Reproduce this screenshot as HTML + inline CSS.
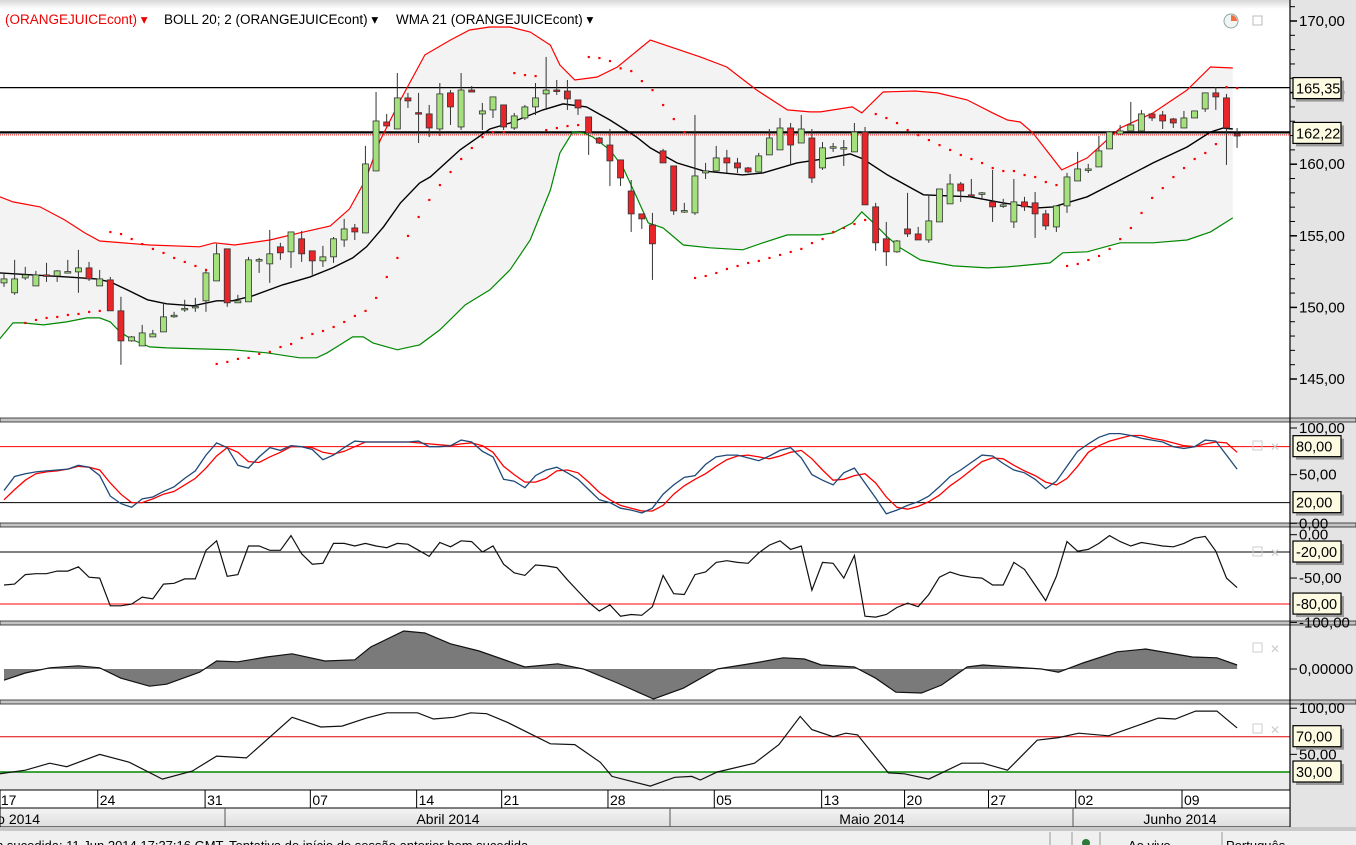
<!DOCTYPE html>
<html><head><meta charset="utf-8">
<style>
html,body{margin:0;padding:0;background:#fff;}
svg{display:block;font-family:"Liberation Sans",sans-serif;}
</style></head>
<body>
<svg id="chart" width="1356" height="845" viewBox="0 0 1356 845" xmlns="http://www.w3.org/2000/svg">
<defs>
<clipPath id="cMain"><rect x="0" y="8" width="1290" height="410"/></clipPath>
<clipPath id="cSto"><rect x="0" y="423" width="1290" height="100"/></clipPath>
<clipPath id="cWr"><rect x="0" y="528" width="1290" height="94"/></clipPath>
<clipPath id="cMacd"><rect x="0" y="626" width="1290" height="75"/></clipPath>
<clipPath id="cRsi"><rect x="0" y="705" width="1290" height="85"/></clipPath>
<linearGradient id="gTop" x1="0" y1="0" x2="0" y2="1"><stop offset="0" stop-color="#d8d8d8"/><stop offset="1" stop-color="#fff"/></linearGradient>
<linearGradient id="gMonth" x1="0" y1="0" x2="0" y2="1"><stop offset="0" stop-color="#f4f4f4"/><stop offset="1" stop-color="#dedede"/></linearGradient>
</defs>
<rect x="0" y="0" width="1356" height="845" fill="#fff"/>
<rect x="1290" y="0" width="66" height="827" fill="#e4e4e4"/>
<rect x="0" y="0" width="1290" height="9" fill="url(#gTop)"/>
<g id="layer"></g>
</svg>
<script>
// ---------- DATA ----------
const candleOpen=[151.71,151.02,152.06,151.50,152.27,152.20,152.48,152.48,152.76,151.50,151.92,149.76,147.66,147.31,147.94,148.29,149.41,149.90,150.04,150.46,151.85,154.09,150.32,150.39,153.32,153.04,154.23,153.88,154.79,153.95,153.25,153.53,154.71,155.55,155.20,159.53,162.95,162.46,164.63,163.60,163.51,162.46,164.98,162.60,165.18,163.51,163.79,164.14,162.53,163.23,164.0,164.91,165.18,165.11,164.49,163.30,161.83,161.34,160.30,158.13,156.53,155.76,160.93,159.88,156.74,156.60,159.39,159.53,160.44,160.09,159.74,159.46,160.65,161.0,162.53,161.48,161.83,159.74,161.20,161.14,160.86,162.25,157.02,154.79,153.88,155.48,155.13,154.71,155.97,157.23,158.62,157.86,157.98,157.37,157.16,155.97,157.37,157.30,156.53,155.62,157.09,158.83,159.65,159.81,161.07,162.11,162.32,162.32,163.51,163.44,163.16,162.53,163.23,163.86,164.98,164.63,162.11];
const candleHigh=[152.41,153.32,152.83,152.55,153.11,152.60,153.32,154.02,153.18,152.62,152.13,150.74,148.0,148.78,148.43,150.32,149.69,150.53,150.67,152.69,154.44,154.09,150.88,153.53,153.46,155.41,154.51,155.27,155.34,153.95,154.30,154.92,156.18,155.83,161.28,165.04,163.51,166.37,164.98,164.98,164.14,165.67,165.18,166.37,165.46,164.28,164.70,164.14,163.58,164.14,165.67,167.49,165.88,165.88,164.49,163.30,161.90,162.46,160.30,158.90,156.53,156.60,161.07,159.88,157.30,163.44,160.09,161.28,161.0,160.44,159.81,160.79,162.46,163.23,162.88,163.44,162.46,161.55,161.48,161.69,162.88,162.60,157.30,155.97,154.71,158.0,155.62,157.86,158.27,159.32,158.76,158.97,158.06,159.60,157.58,158.97,157.72,158.06,156.81,157.09,159.39,160.86,160.02,161.97,162.32,162.74,164.35,163.79,163.51,163.72,163.23,163.72,163.72,164.98,165.39,164.91,162.53];
const candleLow=[151.43,150.88,151.92,151.50,151.78,151.78,152.41,151.02,151.85,151.50,149.76,145.99,147.6,147.31,147.94,148.29,149.27,149.69,149.69,149.69,151.85,150.04,150.32,150.39,152.41,151.71,153.32,152.76,153.18,152.27,152.83,153.11,154.23,154.71,155.20,159.53,162.67,162.46,163.93,161.48,161.90,161.97,162.74,162.39,165.04,162.39,163.23,162.39,162.39,163.09,163.44,163.79,164.84,163.79,163.44,160.65,161.41,158.48,158.48,155.27,155.48,151.92,160.09,156.46,156.60,156.46,158.97,159.53,159.39,159.39,159.39,159.46,160.65,161.0,159.95,161.48,158.69,159.60,160.86,159.88,160.86,157.16,153.95,152.90,153.81,154.92,154.71,154.51,155.97,157.23,157.37,157.72,157.51,155.97,156.95,155.55,156.74,154.85,155.41,155.27,156.60,158.83,159.39,159.81,161.07,162.04,162.32,162.32,163.02,162.46,162.53,162.53,163.23,163.65,163.79,159.95,161.14];
const candleClose=[151.99,151.99,152.27,152.27,152.20,152.55,152.50,152.76,151.99,151.99,149.76,147.66,147.94,148.22,148.15,149.34,149.45,149.93,150.07,152.41,153.74,150.32,150.46,153.32,153.34,153.74,153.81,155.27,153.74,153.25,153.53,154.79,155.48,155.27,160.02,163.02,162.67,164.63,164.42,163.58,162.53,164.91,164.0,165.18,165.04,163.72,164.70,162.60,163.37,164.0,164.63,165.18,165.16,164.56,163.93,162.18,161.48,160.23,159.04,156.53,156.18,154.44,160.09,156.74,156.76,159.18,159.53,160.44,160.09,159.74,159.46,160.58,161.83,162.53,161.34,162.46,159.04,161.14,161.22,161.16,162.25,157.16,154.51,153.88,154.64,155.13,154.71,156.04,158.27,158.62,158.13,157.83,158.0,157.02,157.16,157.37,157.02,156.53,155.69,157.09,159.11,159.67,159.67,160.93,162.25,162.32,162.74,163.51,163.23,163.02,162.88,163.23,163.72,164.98,164.70,162.53,161.97];
const sarValues=[null,null,148.92,149.13,149.27,149.34,149.48,149.55,149.69,149.76,155.27,155.13,154.78,154.43,154.09,153.81,153.46,153.18,152.90,152.62,146.06,146.20,146.41,146.48,146.76,146.90,147.24,147.45,147.87,148.15,148.36,148.64,148.99,149.41,149.76,150.67,152.13,153.46,155.0,156.32,157.51,158.55,159.46,160.37,161.14,161.90,162.25,162.25,166.37,166.23,166.16,162.39,162.53,162.67,162.74,167.49,167.42,167.21,166.7,166.51,165.81,165.18,164.14,163.16,162.25,152.06,152.20,152.41,152.69,152.90,153.11,153.25,153.46,153.67,153.88,154.09,154.50,154.78,155.27,155.55,155.83,156.11,163.51,163.23,162.88,162.39,162.04,161.69,161.34,161.0,160.65,160.37,160.09,159.74,159.53,159.53,159.25,159.11,158.76,158.55,152.90,153.04,153.32,153.60,154.09,154.78,155.55,156.60,157.65,158.34,159.11,159.74,160.37,160.79,161.41,165.39,165.32];
const bbUpperIdx=[-0.4,0.85,3.4,5.7,7.6,9.0,13.7,18.4,19.8,21.7,25.0,27.8,30.7,32.5,34.0,35.4,37.3,39.6,42,43.8,45.7,47.6,49.5,51.4,52.3,53.7,55.8,57.7,60.8,65.5,68.0,70.8,73.7,75.8,76.8,79.8,80.7,82.7,85.7,87.8,90.6,93.0,94.4,95.6,96.8,99.5,101.9,105.0,108.1,111.3,113.5,115.6];
const bbUpperVals=[157.72,157.37,157.02,156.11,155.20,154.64,154.36,154.23,154.51,154.36,154.71,155.20,155.69,156.88,158.90,161.69,164.49,167.63,168.67,169.37,169.58,169.58,169.23,168.32,166.93,165.88,166.09,166.79,168.67,167.49,166.79,165.18,163.79,163.65,163.65,164.0,163.58,165.04,165.11,164.98,164.49,163.58,163.09,162.95,162.18,159.60,160.44,162.53,163.58,165.18,166.79,166.72];
const bbLowerIdx=[-0.4,0.85,1.8,3.7,5.9,7.8,9.0,10.0,10.9,12.1,13.7,15.3,18.4,21.5,24.7,27.8,29.4,30.4,31.3,32.8,33.8,34.7,37.0,38.2,39.1,41.0,43.4,45.7,47.6,49.5,51.4,52.3,53.5,54.5,55.4,57.0,58.2,59.5,60.6,62.0,63.9,66.4,69.5,71.4,73.7,76.8,78.0,79.8,80.7,81.8,83.1,84.3,86.2,89.3,92.5,94.4,98.4,99.6,101.9,105.0,108.1,111.3,113.5,115.6];
const bbLowerVals=[147.80,148.92,148.92,148.78,148.99,149.27,149.27,148.99,148.29,147.73,147.24,147.17,147.10,147.04,146.83,146.48,146.48,146.83,147.24,147.94,147.94,147.52,147.04,147.24,147.38,148.43,150.18,151.22,152.62,154.71,158.20,160.79,162.25,162.18,161.90,161.0,159.81,157.72,155.90,155.55,154.36,154.16,154.02,154.51,155.06,155.06,155.20,155.90,156.67,155.90,154.92,154.16,153.32,152.90,152.76,152.83,153.11,153.81,153.88,154.51,154.51,154.71,155.27,156.25];
const wmaIdx=[-0.4,2.7,5.9,8.7,10.0,11.6,13.5,15.3,17.8,20.0,21.5,23.4,26.2,28.8,30.9,32.8,34.1,35.7,37.3,39.1,40.1,42.9,45.7,47.6,50.7,52.6,54.8,57.0,59.5,60.8,63.3,65.8,69.5,71.4,74.6,77.7,79.6,80.8,83.1,86.5,90.9,94.0,97.2,98.7,101.9,105.0,108.1,111.3,113.5,114.7,115.6];
const wmaVals=[152.41,152.27,152.13,151.99,151.78,151.22,150.53,150.25,150.11,150.46,150.46,150.81,151.57,152.13,152.76,153.46,154.23,155.62,157.30,158.69,159.11,161.0,162.46,162.88,163.79,164.21,164.0,163.09,161.90,161.14,160.09,159.53,159.25,159.39,160.09,160.44,160.72,160.37,159.25,157.86,157.72,157.30,156.95,157.02,157.72,158.90,160.09,161.20,162.25,162.53,162.46];
const stochK=[33,48,51,53,54,55,56,60,58,49,27,19,15,24,26,32,37,46,54,71,84,79,60,57,69,79,76,81,80,77,66,71,79,86,85,85,85,85,85,86,80,80,81,87,85,75,69,45,43,36,49,55,58,52,45,34,23,20,14,12,9,14,29,39,47,49,61,69,71,71,68,65,70,76,79,68,50,44,39,52,57,41,25,8,12,17,21,27,37,48,55,63,71,70,62,55,52,45,35,43,59,75,83,90,94,94,92,89,87,85,80,78,80,87,86,71,56];
const stochD=[23,34,44,51,53,54,56,59,58,55,41,29,20,20,24,29,32,39,46,57,70,79,74,64,63,69,74,80,80,79,74,72,75,80,85,85,85,85,85,84,83,82,81,83,84,81,74,59,50,42,42,46,54,55,52,42,31,23,17,14,11,11,17,29,38,45,51,59,66,70,71,69,67,70,74,76,67,55,44,45,49,51,41,26,15,13,16,21,28,38,46,55,64,68,67,60,54,49,42,39,46,59,74,81,86,89,92,92,89,87,84,81,80,83,85,84,74];
const williamsR=[-58,-57,-46,-45,-45,-42,-42,-37,-49,-50,-82,-82,-80,-72,-74,-57,-56,-51,-51,-18,-7,-48,-46,-13,-13,-18,-18,-1,-22,-34,-33,-10,-10,-13,-10,-13,-15,-10,-11,-18,-25,-9,-14,-7,-8,-20,-13,-34,-44,-47,-35,-36,-38,-52,-65,-78,-88,-81,-94,-92,-93,-83,-47,-68,-69,-46,-43,-32,-30,-32,-33,-21,-12,-7,-17,-13,-64,-32,-33,-50,-24,-94,-95,-92,-84,-79,-83,-69,-49,-43,-47,-49,-50,-58,-58,-32,-40,-58,-76,-48,-8,-19,-17,-10,-1,-8,-13,-9,-11,-13,-14,-10,-4,-2,-19,-50,-61];
const macdIdx=[0,2,4.3,7,9,11,13.7,15.3,18.4,20,22,24.7,27.1,30.2,33,34.5,37.6,39.6,42,44.7,49,52.1,54.5,57.7,61.1,63.9,67.1,70.6,73.3,75.3,76.9,80,82,83.9,86.3,88.2,90.6,92.1,97.6,99.2,101.5,104.7,107.4,111.8,114.1,116];
const macdVals=[-0.28,-0.10,0.03,0.08,0.03,-0.23,-0.43,-0.38,-0.08,0.20,0.18,0.30,0.38,0.20,0.23,0.55,0.95,0.90,0.63,0.45,0.05,0.13,0,-0.35,-0.75,-0.48,0,0.15,0.28,0.25,0.10,0.05,-0.23,-0.58,-0.60,-0.40,0.05,0.10,0,-0.08,0.15,0.43,0.50,0.30,0.28,0.10];
const rsiIdx=[-0.4,2.0,4.3,5.9,9.0,11.8,14.9,17.7,20.0,22.8,27.1,29.8,31.8,34.1,36.0,38.9,40.4,42.3,43.9,45.4,47.4,51.4,53.7,56.1,57.2,60.8,63.1,64.7,65.5,67.1,70.6,72.9,74.9,76.0,78.0,79.2,80.3,83.2,84.7,87.0,90.1,92.1,94.4,97.2,99.2,101.1,103.9,108.6,110.2,112.1,114.1,116];
const rsiVals=[28,32,40,36,50,41,22,31,48,46,92,81,82,91,97,97,90,92,97,96,86,62,61,41,25,14,24,25,21,30,40,61,93,78,70,74,72,29,28,22,40,40,32,66,69,74,71,91,90,99,99,80];
const priceTicks=[170,165,160,155,150,145];
const dateLabels=["17","24","31","07","14","21","28","05","13","20","27","02","09"];
const dateIdx=[-0.2,9.1,19.2,29.1,39.1,47.1,57.1,67.1,77.2,85.0,92.9,101.1,111.1];
const monthLabels=["Março 2014","Abril 2014","Maio 2014","Junho 2014"];

// ---------- SCALES ----------
const NS="http://www.w3.org/2000/svg";
const layer=document.getElementById('layer');
const xOf=i=>4+i*10.63;
const yP=p=>21+(170-p)*14.32;
const yS=v=>521.3-v*0.933;
const yW=v=>534.7-v*0.867;
const yM=v=>669-v*40;
const yR=v=>798.5-v*0.883;
function mk(tag,attrs,parent){const e=document.createElementNS(NS,tag);for(const k in attrs)e.setAttribute(k,attrs[k]);(parent||layer).appendChild(e);return e;}
function grp(clip){const g=mk('g',clip?{'clip-path':'url(#'+clip+')'}:{});return g;}
function pts(idx,vals,sy){return idx.map((t,k)=>xOf(t).toFixed(1)+','+sy(vals[k]).toFixed(1)).join(' ');}
const allIdx=candleClose.map((_,i)=>i);

// ---------- MAIN PANEL ----------
const gm=grp('cMain');
let bandPts=pts(bbUpperIdx,bbUpperVals,yP)+' '+bbLowerIdx.slice().reverse().map((t,k)=>{const v=bbLowerVals[bbLowerVals.length-1-k];return xOf(t).toFixed(1)+','+yP(v).toFixed(1);}).join(' ');
let e=mk('polygon',{points:bandPts,fill:'#f3f3f3',stroke:'none'},gm);


e=mk('line',{x1:0,x2:1290,y1:yP(165.35),y2:yP(165.35),stroke:'#000','stroke-width':1.2},gm);


e=mk('line',{x1:0,x2:1290,y1:yP(162.22),y2:yP(162.22),stroke:'#000','stroke-width':2.2},gm);


e=mk('line',{x1:0,x2:1290,y1:yP(162.22)+2.5,y2:yP(162.22)+2.5,stroke:'#f00','stroke-width':1,'stroke-dasharray':'1,1'},gm);


e=mk('polyline',{points:pts(bbUpperIdx,bbUpperVals,yP),fill:'none',stroke:'#f00','stroke-width':1.2},gm);


e=mk('polyline',{points:pts(bbLowerIdx,bbLowerVals,yP),fill:'none',stroke:'#080','stroke-width':1.2},gm);


e=mk('polyline',{points:pts(wmaIdx,wmaVals,yP),fill:'none',stroke:'#000','stroke-width':1.4},gm);


for(let i=0;i<candleClose.length;i++){
  const o=candleOpen[i],c=candleClose[i],h=candleHigh[i],l=candleLow[i];
  const x=xOf(i);
  const up=c>=o;
  const w=mk('line',{x1:x,x2:x,y1:yP(h),y2:yP(l),stroke:'#333','stroke-width':1},gm);
  
  
  const top=yP(Math.max(o,c)),bot=yP(Math.min(o,c));
  const b=mk('rect',{x:x-3,y:top,width:6,height:Math.max(1.5,bot-top),fill:up?'#a4e07c':'#e8262a',stroke:'#333','stroke-width':0.8},gm);
  
  
}
for(let i=0;i<sarValues.length;i++){
  if(sarValues[i]===null)continue;
  const d=mk('rect',{x:xOf(i)-1,y:yP(sarValues[i])-1,width:2.2,height:2.2,fill:'#f00'},gm);
  
  
}
const legend=[["(ORANGEJUICEcont) ▾",5,'#e00'],["BOLL 20; 2 (ORANGEJUICEcont) ▾",164,'#000'],["WMA 21 (ORANGEJUICEcont) ▾",396,'#000']];
legend.forEach((L,k)=>{const t=mk('text',{x:L[1],y:24,'font-size':13.5,fill:L[2]});t.textContent=L[0];

});
e=mk('circle',{cx:1231,cy:21,r:7,fill:'#f3f3f3',stroke:'#8aa',"stroke-width":1});


e=mk('path',{d:'M1231 21 L1231 15 A6 6 0 0 1 1237 21 Z',fill:'#f07040'});


e=mk('rect',{x:1253,y:16,width:9,height:9,fill:'none',stroke:'#bbb'});



// ---------- PANEL SEPARATORS ----------
[[418,'sep-main'],[523,'sep-stoch'],[621,'sep-williams'],[700,'sep-macd']].forEach(s=>{
  const r=mk('rect',{x:0,y:s[0],width:1356,height:4,fill:'#c4c4c4',stroke:'#222','stroke-width':0.8});
  
  
});

// ---------- STOCHASTIC ----------
const gs=grp('cSto');
e=mk('line',{x1:0,x2:1290,y1:yS(80),y2:yS(80),stroke:'#f00'},gs);


e=mk('line',{x1:0,x2:1290,y1:yS(20),y2:yS(20),stroke:'#000'},gs);


e=mk('polyline',{points:pts(allIdx,stochD,yS),fill:'none',stroke:'#f00','stroke-width':1.3},gs);


e=mk('polyline',{points:pts(allIdx,stochK,yS),fill:'none',stroke:'#1f4a78','stroke-width':1.3},gs);



// ---------- WILLIAMS %R ----------
const gw=grp('cWr');
e=mk('line',{x1:0,x2:1290,y1:yW(-20),y2:yW(-20),stroke:'#000'},gw);


e=mk('line',{x1:0,x2:1290,y1:yW(-80),y2:yW(-80),stroke:'#f00'},gw);


e=mk('polyline',{points:pts(allIdx,williamsR,yW),fill:'none',stroke:'#111','stroke-width':1.2},gw);



// ---------- MACD AREA ----------
const gmc=grp('cMacd');
const macdPoly=xOf(macdIdx[0]).toFixed(1)+','+yM(0)+' '+pts(macdIdx,macdVals,yM)+' '+xOf(macdIdx[macdIdx.length-1]).toFixed(1)+','+yM(0);
e=mk('polygon',{points:macdPoly,fill:'#7a7a7a',stroke:'none'},gmc);


e=mk('polyline',{points:pts(macdIdx,macdVals,yM),fill:'none',stroke:'#111','stroke-width':1.2},gmc);



// ---------- RSI ----------
const gr=grp('cRsi');
e=mk('rect',{x:0,y:yR(30),width:1290,height:790-yR(30),fill:'#ececec'},gr);


e=mk('line',{x1:0,x2:1290,y1:yR(70),y2:yR(70),stroke:'#d00'},gr);


e=mk('line',{x1:0,x2:1290,y1:yR(30),y2:yR(30),stroke:'#080','stroke-width':1.4},gr);


e=mk('polyline',{points:pts(rsiIdx,rsiVals,yR),fill:'none',stroke:'#111','stroke-width':1.2},gr);



[446,552,648,729].forEach(y=>{
  const a=mk('rect',{x:1253,y:y-5,width:9,height:9,fill:'none',stroke:'#ccc'});
  
  
  const b=mk('text',{x:1270,y:y+5,'font-size':12,fill:'#ccc'});b.textContent='✕';
  
  
});

// ---------- RIGHT AXES ----------
e=mk('line',{x1:1290,x2:1290,y1:0,y2:827,stroke:'#000','stroke-width':1.2});


for(let p=145;p<=171;p++){
  const y=yP(p);const major=p%5===0;
  const t=mk('line',{x1:1290,x2:major?1297:1295,y1:y,y2:y,stroke:'#000','stroke-width':major?1.5:1});
  
  
}
priceTicks.forEach(p=>{const t=mk('text',{x:1299,y:yP(p)+5,'font-size':15,fill:'#000'});t.textContent=p.toFixed(2).replace('.',',');

});
function plain(txt,y,name){const t=mk('text',{x:1299,y:y+5,'font-size':15,fill:'#000'});t.textContent=txt;


const k=mk('line',{x1:1290,x2:1297,y1:y,y2:y,stroke:'#000'});

}
plain('100,00',yS(100),'stoch-axis-label');
plain('50,00',yS(50),'stoch-axis-label');
plain('0,00',yS(0)+2,'stoch-axis-label');
plain('0,00',yW(0),'williams-axis-label');
plain('-50,00',yW(-50),'williams-axis-label');
plain('-100,00',yW(-100)+1,'williams-axis-label');
plain('0,00000',yM(0),'oscillator-axis-label');
plain('100,00',yR(100)-2,'rsi-axis-label');
plain('50,00',yR(50),'rsi-axis-label');
function box(txt,y,name){
  const s=mk('rect',{x:1296,y:y-8,width:48,height:21,fill:'#999'});
  
  
  const r=mk('rect',{x:1293,y:y-11,width:48,height:21,fill:'#fdfbe2',stroke:'#000','stroke-width':1.2});
  
  
  const t=mk('text',{x:1296,y:y+5,'font-size':14.5,fill:'#000'});t.textContent=txt;
  
  
}
box('165,35',yP(165.35)+1,'price-tag-165-35');
box('162,22',yP(162.22)+1,'price-tag-162-22');
box('80,00',yS(80),'stoch-tag-80');
box('20,00',yS(20),'stoch-tag-20');
box('-20,00',yW(-20),'williams-tag-20');
box('-80,00',yW(-80),'williams-tag-80');
box('70,00',yR(70),'rsi-tag-70');
box('30,00',yR(30),'rsi-tag-30');

// ---------- DATE AXIS ----------
e=mk('rect',{x:0,y:790,width:1290,height:18,fill:'#fff',stroke:'#000','stroke-width':1});


dateLabels.forEach((d,k)=>{
  const x=xOf(dateIdx[k]);
  const s=mk('line',{x1:x-3,x2:x-3,y1:790,y2:808,stroke:'#000'});
  
  
  const t=mk('text',{x:x-1,y:805,'font-size':14,fill:'#000'});t.textContent=d;
  
  
});
e=mk('rect',{x:0,y:808,width:1290,height:19,fill:'url(#gMonth)',stroke:'#000','stroke-width':1});


[225,670,1073].forEach(x=>{const s=mk('line',{x1:x,x2:x,y1:808,y2:827,stroke:'#555'});

});
[[40,'end'],[448,'middle'],[872,'middle'],[1180,'middle']].forEach((m,k)=>{
  const t=mk('text',{x:m[0],y:824,'font-size':14,fill:'#000','text-anchor':m[1]});t.textContent=monthLabels[k];
  
  
});
// ---------- STATUS BAR ----------
e=mk('rect',{x:0,y:827,width:1356,height:18,fill:'#f0f0f0'});


e=mk('rect',{x:0,y:827,width:1356,height:4,fill:'#c8c8c8'});


e=mk('text',{x:-22,y:850,'font-size':13,fill:'#000'});e.textContent='bem sucedida: 11 Jun 2014 17:37:16 GMT. Tentativa de início de sessão anterior bem sucedida.';


[1050,1072,1100,1222].forEach(x=>{const s=mk('line',{x1:x,x2:x,y1:832,y2:845,stroke:'#999'});

});
e=mk('circle',{cx:1086,cy:843,r:4,fill:'#2a7a3a'});


e=mk('text',{x:1128,y:850,'font-size':13,fill:'#000'});e.textContent='Ao vivo';


e=mk('text',{x:1226,y:850,'font-size':13,fill:'#000'});e.textContent='Português';


</script>
</body></html>
